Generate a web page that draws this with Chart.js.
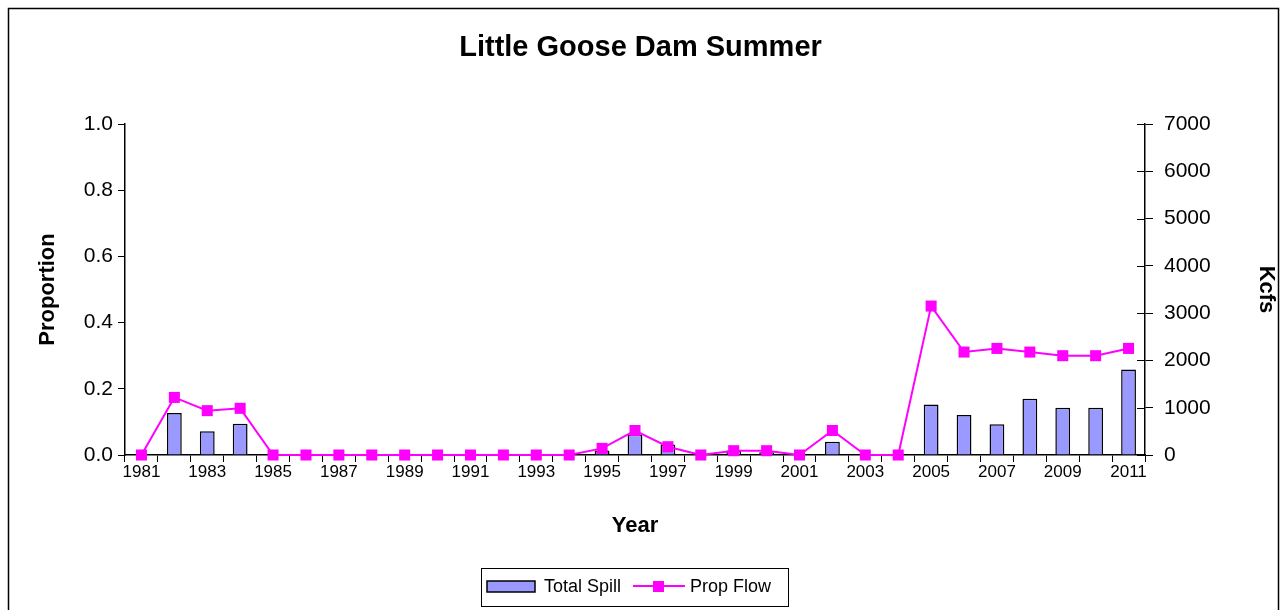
<!DOCTYPE html>
<html>
<head>
<meta charset="utf-8">
<script src="https://cdn.jsdelivr.net/npm/chart.js@4/dist/chart.umd.min.js"></script>
<style>
  body { margin: 0; background: #fff; }
  canvas { display: block; }
</style>
</head>
<body>
<canvas id="gooseChart" width="1281" height="610"></canvas>
<script>
// Years on the x axis
const years = ['1981', '1982', '1983', '1984', '1985', '1986', '1987', '1988', '1989', '1990',
  '1991', '1992', '1993', '1994', '1995', '1996', '1997', '1998', '1999', '2000',
  '2001', '2002', '2003', '2004', '2005', '2006', '2007', '2008', '2009', '2010', '2011'];

// Total Spill (Kcfs, right axis)
const totalSpill = [0, 890, 500, 660, 0, 0, 0, 0, 0, 0,
  0, 0, 0, 0, 95, 430, 220, 0, 95, 60,
  0, 282, 0, 0, 1070, 845, 650, 1190, 1000, 1000, 1810];

// Prop Flow (proportion, left axis)
const propFlow = [0, 0.174, 0.134, 0.141, 0, 0, 0, 0, 0, 0,
  0, 0, 0, 0, 0.02, 0.074, 0.025, 0, 0.013, 0.013,
  0, 0.074, 0, 0, 0.45, 0.311, 0.322, 0.311, 0.3, 0.3, 0.322];

const FONT = "'Liberation Sans', Arial, sans-serif";

// Outer frame, inner half of the right axis ticks, and the legend box
const framePlugin = {
  id: 'frame',
  afterDraw(chart) {
    const ctx = chart.ctx;
    ctx.save();
    ctx.strokeStyle = '#000';
    ctx.lineWidth = 1.5;
    ctx.strokeRect(8.5, 8.5, 1270, 700);

    // right axis ticks cross the axis line
    const y1 = chart.scales.y1;
    ctx.lineWidth = 1;
    y1.ticks.forEach(t => {
      const py = Math.round(y1.getPixelForValue(t.value)) + 0.5;
      ctx.beginPath();
      ctx.moveTo(y1.left - 8, py);
      ctx.lineTo(y1.left, py);
      ctx.stroke();
    });

    // legend box
    ctx.strokeRect(481.5, 568.5, 307, 38);

    // Total Spill swatch
    ctx.fillStyle = '#9999FF';
    ctx.fillRect(487, 581, 48, 11);
    ctx.lineWidth = 1.5;
    ctx.strokeRect(487, 581, 48, 11);

    ctx.fillStyle = '#000';
    ctx.font = '18px ' + FONT;
    ctx.textBaseline = 'middle';
    ctx.fillText('Total Spill', 544, 587);

    // Prop Flow sample
    ctx.strokeStyle = '#FF00FF';
    ctx.lineWidth = 2;
    ctx.beginPath();
    ctx.moveTo(633, 586);
    ctx.lineTo(685, 586);
    ctx.stroke();
    ctx.fillStyle = '#FF00FF';
    ctx.fillRect(653, 581, 11, 11);

    ctx.fillStyle = '#000';
    ctx.fillText('Prop Flow', 690, 587);
    ctx.restore();
  }
};

new Chart(document.getElementById('gooseChart').getContext('2d'), {
  type: 'bar',
  data: {
    labels: years,
    datasets: [{
      type: 'line',
      label: 'Prop Flow',
      data: propFlow,
      yAxisID: 'y',
      borderColor: '#FF00FF',
      backgroundColor: '#FF00FF',
      borderWidth: 2,
      pointStyle: 'rect',
      pointRadius: 7.8,
      pointBorderWidth: 0,
      tension: 0,
      clip: false,
      order: 1
    }, {
      label: 'Total Spill',
      data: totalSpill,
      yAxisID: 'y1',
      backgroundColor: '#9999FF',
      borderColor: '#000',
      borderWidth: 1.5,
      categoryPercentage: 1,
      barPercentage: 0.45,
      order: 2
    }]
  },
  options: {
    responsive: false,
    animation: false,
    layout: { padding: { left: 0, right: 0, top: 0, bottom: 70 } },
    plugins: {
      legend: { display: false },
      tooltip: { enabled: false },
      title: {
        display: true,
        text: 'Little Goose Dam Summer',
        color: '#000',
        font: { family: FONT, size: 29, weight: 'bold' },
        padding: { top: 31, bottom: 58.2 }
      }
    },
    scales: {
      x: {
        afterFit(scale) { scale.height = 85; },
        border: { color: '#000', width: 1.5 },
        grid: { display: true, drawOnChartArea: false, color: '#000', tickLength: 7, offset: true },
        ticks: {
          color: '#000',
          font: { family: FONT, size: 17 },
          autoSkip: false,
          maxRotation: 0,
          padding: 0,
          callback: function(val, i) { return i % 2 === 0 ? this.getLabelForValue(val) : ''; }
        },
        title: {
          display: true,
          text: 'Year',
          color: '#000',
          font: { family: FONT, size: 22, weight: 'bold' },
          padding: { top: 0, bottom: 1 }
        }
      },
      y: {
        position: 'left',
        min: 0,
        max: 1,
        afterFit(scale) { scale.width = 125; },
        border: { color: '#000', width: 1.5 },
        grid: { drawOnChartArea: false, color: '#000', tickLength: 7 },
        ticks: {
          stepSize: 0.2,
          color: '#000',
          font: { family: FONT, size: 21 },
          padding: 5,
          callback: v => v.toFixed(1)
        },
        title: {
          display: true,
          text: 'Proportion',
          color: '#000',
          font: { family: FONT, size: 22, weight: 'bold' },
          padding: { top: 35, bottom: 0 }
        }
      },
      y1: {
        position: 'right',
        min: 0,
        max: 7000,
        afterFit(scale) { scale.width = 136; },
        border: { color: '#000', width: 1.5 },
        grid: { drawOnChartArea: false, color: '#000', tickLength: 8 },
        ticks: {
          stepSize: 1000,
          color: '#000',
          font: { family: FONT, size: 21 },
          padding: 11,
          callback: v => String(v)
        },
        title: {
          display: true,
          text: 'Kcfs',
          color: '#000',
          font: { family: FONT, size: 22, weight: 'bold' },
          padding: { top: 2, bottom: 0 }
        }
      }
    }
  },
  plugins: [framePlugin]
});
</script>
</body>
</html>
